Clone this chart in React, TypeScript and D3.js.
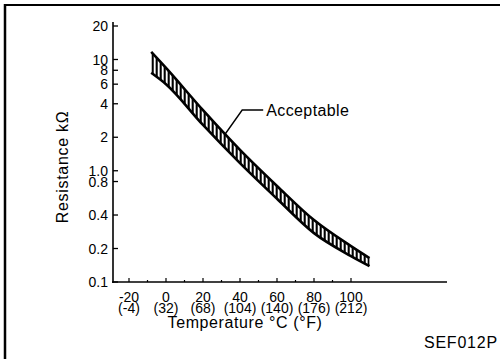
import React from "react";
import * as d3 from "d3";

const temps = [-8, 0, 20, 40, 60, 80, 100, 110];
const upper = [11.7, 8.4, 3.5, 1.54, 0.73, 0.36, 0.21, 0.164];
const lower = [7.6, 6.0, 2.58, 1.17, 0.56, 0.275, 0.171, 0.139];

const yTicks = [20, 10, 8, 6, 4, 2, 1, 0.8, 0.4, 0.2, 0.1];
const yTickLabels = ["20", "10", "8", "6", "4", "2", "1.0", "0.8", "0.4", "0.2", "0.1"];
const xTicksC = [-20, 0, 20, 40, 60, 80, 100];
const xTicksF = ["(-4)", "(32)", "(68)", "(104)", "(140)", "(176)", "(212)"];
const minorTicks = [-20, -10, 0, 10, 20, 30, 40, 50, 60, 70, 80, 90, 100];
const leaderTemp = 32;

const W = 500;
const H = 359;
const FONT = "'Liberation Sans', Arial, Helvetica, sans-serif";

export default function App() {
  const x = d3.scaleLinear().domain([-20, 100]).range([129, 351]);
  const y = d3.scaleLog().domain([0.1, 20]).range([282, 26]);

  const band = temps.map((t, i) => ({ t, hi: upper[i], lo: lower[i] }));
  const curve = d3.curveMonotoneX;
  const area = d3
    .area<any>()
    .x((d) => x(d.t))
    .y0((d) => y(d.lo))
    .y1((d) => y(d.hi))
    .curve(curve);
  const upLine = d3.line<any>().x((d) => x(d.t)).y((d) => y(d.hi)).curve(curve);
  const loLine = d3.line<any>().x((d) => x(d.t)).y((d) => y(d.lo)).curve(curve);

  const x0 = x(temps[0]);
  const x1 = x(temps[temps.length - 1]);
  const hatchX = d3.range(x0 + 1.5, x1, 4);

  // leader anchor on the upper edge of the band
  const upInterp = d3
    .scaleLinear()
    .domain(temps)
    .range(upper.map((v) => Math.log10(v)));
  const ax = x(leaderTemp);
  const anchorY = y(Math.pow(10, upInterp(leaderTemp)));
  const ey = anchorY - 24;

  return (
    <svg
      width={W}
      height={H}
      style={{ position: "absolute", left: 0, top: 0, background: "#fff" }}
      fontFamily={FONT}
    >
      <rect x={0} y={0} width={W} height={H} fill="#fff" />
      {/* frame */}
      <line x1={4} y1={5} x2={W} y2={5} stroke="#000" strokeWidth={2.2} />
      <line x1={5} y1={4} x2={5} y2={H} stroke="#000" strokeWidth={2.5} />

      {/* y axis */}
      <line x1={113} y1={22} x2={113} y2={283} stroke="#000" strokeWidth={1.6} />
      {yTicks.map((v, i) => (
        <g key={"yt" + i}>
          <line x1={113} x2={118} y1={y(v)} y2={y(v)} stroke="#000" strokeWidth={1.3} />
          <text
            x={108}
            y={y(v)}
            dy="0.36em"
            textAnchor="end"
            fontSize={14}
            fill="#000"
          >
            {yTickLabels[i]}
          </text>
        </g>
      ))}
      <text
        transform={`translate(68,167) rotate(-90)`}
        textAnchor="middle"
        fontSize={16}
        letterSpacing={0.7}
        fill="#000"
      >
        Resistance kΩ
      </text>

      {/* x axis */}
      <line x1={112} y1={282} x2={447} y2={282} stroke="#000" strokeWidth={1.6} />
      {minorTicks.map((t, i) => (
        <line
          key={"mt" + i}
          x1={x(t)}
          x2={x(t)}
          y1={282}
          y2={t % 20 === 0 ? 278 : 280}
          stroke="#000"
          strokeWidth={1.2}
        />
      ))}
      {xTicksC.map((t, i) => (
        <g key={"xt" + i}>
          <text x={x(t)} y={302} textAnchor="middle" fontSize={14} fill="#000">
            {String(t)}
          </text>
          <text x={x(t)} y={313} textAnchor="middle" fontSize={14} fill="#000">
            {xTicksF[i]}
          </text>
        </g>
      ))}
      <text x={245} y={328} textAnchor="middle" fontSize={16} letterSpacing={0.6} fill="#000">
        Temperature °C (°F)
      </text>

      {/* band */}
      <defs>
        <clipPath id="bandClip">
          <path d={area(band) || ""} />
        </clipPath>
      </defs>
      <g clipPath="url(#bandClip)">
        {hatchX.map((hx, i) => (
          <line key={"h" + i} x1={hx} x2={hx} y1={20} y2={290} stroke="#000" strokeWidth={2.1} />
        ))}
      </g>
      <path d={upLine(band) || ""} fill="none" stroke="#000" strokeWidth={2.6} />
      <path d={loLine(band) || ""} fill="none" stroke="#000" strokeWidth={2.6} />

      {/* leader */}
      <polyline
        points={`${ax},${anchorY} ${ax + 17},${ey} ${ax + 38},${ey}`}
        fill="none"
        stroke="#000"
        strokeWidth={1.4}
      />
      <text x={ax + 41} y={ey + 6} fontSize={16} letterSpacing={0.4} fill="#000">
        Acceptable
      </text>

      <text x={498} y={348} textAnchor="end" fontSize={16} letterSpacing={0.8} fill="#000">
        SEF012P
      </text>
    </svg>
  );
}
